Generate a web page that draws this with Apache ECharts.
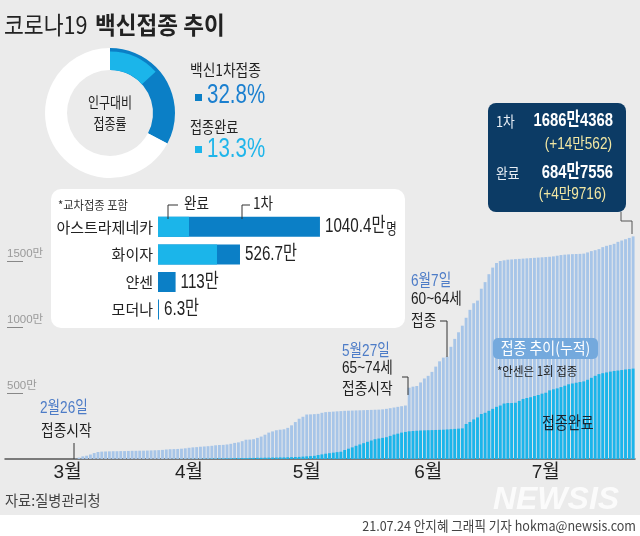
<!DOCTYPE html>
<html><head><meta charset="utf-8">
<script src="https://cdn.jsdelivr.net/npm/echarts@6/dist/echarts.min.js"></script>
<style>html,body{margin:0;padding:0;background:#fff}#c{width:640px;height:536px}</style>
</head><body><div id="c"></div>
<script>
// ---------- DATA ----------
const axisStart = [2021, 1, 8];          // axis begins a little before the first bar
const firstBarDate = '2/26';
const lastBarDate = '7/23';
// cumulative 1st dose (만 명), daily 2/26 .. 7/23
const firstDose = [
  2, 10, 20,
  25, 34, 45, 53, 56, 57, 58, 59, 59, 60, 60, 61, 62, 62, 63, 63, 64, 65, 66, 67, 69, 72, 74, 75, 76, 78, 81, 85, 88, 90, 93,
  95, 97, 100, 104, 106, 107, 110, 115, 122, 126, 135, 146, 147, 150, 160, 170, 184, 200, 209, 218, 222, 225, 236, 255, 280, 305, 320, 337, 338, 340,
  342, 350, 355, 357, 359, 361, 363, 365, 366, 367, 368, 369, 370, 371, 372, 373, 374, 376, 380, 385, 390, 395, 400, 405, 540, 548, 553, 580, 610, 630, 660,
  700, 740, 768, 775, 850, 910, 960, 1010, 1070, 1130, 1180, 1200, 1290, 1340, 1400, 1450, 1485, 1500, 1505, 1510, 1512, 1514, 1516, 1518, 1520, 1522, 1524, 1526, 1528, 1530,
  1532, 1535, 1540, 1545, 1548, 1550, 1552, 1553, 1554, 1556, 1565, 1575, 1582, 1590, 1605, 1615, 1622, 1630, 1645, 1655, 1665, 1675, 1686.4
];
// cumulative fully vaccinated (만 명)
const fullyVax = [
  0, 0, 0,
  0, 0, 0, 0, 0, 0, 0, 0, 0, 0, 0, 0, 0, 0, 0, 0, 0, 0, 0, 0.1, 0.2, 0.3, 0.4, 0.5, 0.6, 0.7, 0.8, 0.9, 1, 1.1, 1.2,
  2, 2, 3, 3, 4, 4, 5, 5, 6, 6, 7, 7, 8, 8, 9, 9, 10, 10, 11, 11, 12, 12, 13, 14, 15, 16, 18, 20, 22, 24,
  30, 35, 40, 44, 48, 52, 55, 68, 78, 88, 100, 110, 120, 130, 140, 150, 155, 160, 165, 175, 185, 192, 200, 205, 210, 212, 214, 216, 217, 218, 219,
  220, 221, 222, 224, 226, 228, 230, 232, 265, 280, 300, 315, 341, 350, 365, 380, 395, 405, 420, 424, 424, 426, 440, 455, 462, 468, 477, 485, 495, 502,
  520, 528, 535, 545, 555, 566, 572, 578, 583, 588, 600, 615, 630, 643, 650, 656, 662, 667, 670, 674, 678, 681, 684.8
];
const monthLabelAt = ['2/24', '3/28', '4/28', '5/30', '6/30'];
const monthLabels = ['3월', '4월', '5월', '6월', '7월'];
const yTickValues = [500, 1000, 1500];

const vaccines = ['아스트라제네카', '화이자', '얀센', '모더나'];
const vaccineFirst = [1040.4, 526.7, 113, 6.3];
const vaccineDone = [199, 379, null, null];
const vaccineLabels = ['1040.4만', '526.7만', '113만', '6.3만'];
const vaccineUnit = ['명', '', '', ''];

const donutFirstPct = 32.8;
const donutDonePct = 13.3;

// ---------- BUILD ----------
const F_NUM = "'Liberation Sans','Noto Sans CJK KR',sans-serif";
const F_KR = "'Noto Sans CJK KR','Noto Sans',sans-serif";

const categories = [];
{
  const d = new Date(Date.UTC(axisStart[0], axisStart[1], axisStart[2]));
  while (true) {
    const lab = (d.getUTCMonth() + 1) + '/' + d.getUTCDate();
    categories.push(lab);
    if (lab === lastBarDate) break;
    d.setUTCDate(d.getUTCDate() + 1);
  }
}
const pad = categories.indexOf(firstBarDate);
const padArr = new Array(pad).fill(null);

const C_FIRST = '#a7c5e8', C_DONE = '#1bb5ea', C_DARK = '#0b7fc6';

function txt(x, y, text, size, color, opts, sx) {
  return { type: 'text', x: x, y: y, z: 50, silent: true, scaleX: sx || 1,
    style: Object.assign({ text: text, fontSize: size, fill: color, fontFamily: F_KR,
      verticalAlign: 'middle', align: 'left' }, (opts || {})) };
}
function pl(points, color) {
  return { type: 'polyline', z: 50, silent: true, shape: { points: points },
    style: { stroke: color || '#333', lineWidth: 1, fill: null } };
}

const chart = echarts.init(document.getElementById('c'), null, { renderer: 'canvas' });
const option = {
  animation: false,
  backgroundColor: '#ebebeb',
  grid: [
    { left: 5, right: 5, top: 195, bottom: 77 },
    { left: 158, top: 213, width: 233.5, height: 110.4 }
  ],
  xAxis: [
    { type: 'category', gridIndex: 0, data: categories,
      axisLine: { lineStyle: { color: '#555', width: 1.5 } },
      axisTick: { show: false },
      axisLabel: { interval: (i, v) => monthLabelAt.indexOf(v) >= 0,
        formatter: v => monthLabels[monthLabelAt.indexOf(v)] || '',
        color: '#222', fontSize: 19, fontFamily: F_NUM, margin: 4 } },
    { type: 'value', gridIndex: 1, min: 0, max: 1500, show: false }
  ],
  yAxis: [
    { type: 'value', gridIndex: 0, min: 0, max: 2000, interval: 500, offset: -18,
      axisLine: { show: false }, splitLine: { show: false },
      axisTick: { show: true, customValues: yTickValues, length: 16, lineStyle: { color: '#888' } },
      axisLabel: { customValues: yTickValues, formatter: v => (yTickValues.indexOf(v) >= 0 ? v + '만' : ''),
        align: 'left', verticalAlign: 'bottom', margin: 16, color: '#999', fontSize: 11.5,
        fontFamily: F_NUM, padding: [0, 0, 1, 0] } },
    { type: 'category', gridIndex: 1, data: vaccines, inverse: true,
      axisLine: { show: false }, axisTick: { show: false },
      axisLabel: { color: '#222', fontSize: 15, fontFamily: F_KR, margin: 5 } }
  ],
  series: [
    { type: 'bar', name: '1차', xAxisIndex: 0, yAxisIndex: 0, data: padArr.concat(firstDose),
      itemStyle: { color: C_FIRST }, barCategoryGap: '24%', silent: true },
    { type: 'bar', name: '완료', xAxisIndex: 0, yAxisIndex: 0, data: padArr.concat(fullyVax),
      itemStyle: { color: C_DONE }, barGap: '-100%', silent: true },
    { type: 'bar', xAxisIndex: 1, yAxisIndex: 1, data: vaccineFirst, barWidth: 20,
      itemStyle: { color: C_DARK }, silent: true },
    { type: 'bar', xAxisIndex: 1, yAxisIndex: 1, data: vaccineDone, barWidth: 20, barGap: '-100%',
      itemStyle: { color: C_DONE }, silent: true },
    { type: 'custom', xAxisIndex: 1, yAxisIndex: 1, silent: true, z: 10,
      data: vaccineFirst.map((v, i) => [v, i]),
      renderItem: function (params, api) {
        const p = api.coord([api.value(0), api.value(1)]);
        const i = params.dataIndex;
        return { type: 'text', x: p[0] + 5, y: p[1], scaleX: 0.76,
          style: { text: '{v|' + vaccineLabels[i] + '}' + (vaccineUnit[i] ? '{u|' + vaccineUnit[i] + '}' : ''),
            verticalAlign: 'middle', align: 'left',
            rich: { v: { fontSize: 20, fontFamily: F_NUM, fill: '#222', color: '#222' },
                    u: { fontSize: 15, fontFamily: F_KR, fill: '#222', color: '#222', padding: [3, 0, 0, 1] } } } };
      } },
    { type: 'pie', center: [110, 113], radius: [43, 65], startAngle: 90, silent: true,
      label: { show: false }, labelLine: { show: false }, itemStyle: { borderWidth: 0 },
      data: [ { value: donutFirstPct, itemStyle: { color: C_DARK } },
              { value: 100 - donutFirstPct, itemStyle: { color: '#ffffff' } } ] },
    { type: 'pie', center: [110, 113], radius: [43, 61.5], startAngle: 90, silent: true,
      label: { show: false }, labelLine: { show: false }, itemStyle: { borderWidth: 0 },
      data: [ { value: donutDonePct, itemStyle: { color: C_DONE } },
              { value: 100 - donutDonePct, itemStyle: { color: 'rgba(0,0,0,0)' } } ] }
  ],
  graphic: [
    // white footer band
    { type: 'rect', z: -1, silent: true, shape: { x: 0, y: 515, width: 640, height: 21 }, style: { fill: '#ffffff' } },
    // white vaccine box
    { type: 'rect', z: -1, silent: true, shape: { x: 51, y: 189, width: 354, height: 139, r: 10 }, style: { fill: '#ffffff' } },
    // title
    txt(4, 25, '코로나19', 24, '#222', {}, 0.9),
    txt(95, 25, '백신접종 추이', 24, '#222', { fontWeight: 'bold' }, 0.94),
    // donut center text
    txt(110, 102, '인구대비', 15, '#222', { align: 'center' }, 0.8),
    txt(110, 123, '접종률', 15, '#222', { align: 'center' }, 0.8),
    // donut legend
    txt(190, 70, '백신1차접종', 16, '#222', {}, 0.86),
    { type: 'rect', z: 50, silent: true, shape: { x: 195, y: 94, width: 7, height: 7 }, style: { fill: C_DARK } },
    txt(207, 96, '32.8%', 27, '#1a7fcf', { fontFamily: F_NUM }, 0.76),
    txt(190, 127, '접종완료', 16, '#222', {}, 0.82),
    { type: 'rect', z: 50, silent: true, shape: { x: 195, y: 146, width: 7, height: 7 }, style: { fill: C_DONE } },
    txt(207, 150, '13.3%', 27, '#1fb5ea', { fontFamily: F_NUM }, 0.76),
    // vaccine box texts
    txt(58, 205, '*교차접종 포함', 12.5, '#333', {}, 0.9),
    txt(184, 203, '완료', 16, '#222', {}, 0.85),
    txt(253, 203, '1차', 16, '#222', {}, 0.85),
    pl([[178, 205], [168, 205], [168, 219]], '#333'),
    pl([[250, 205], [242, 205], [242, 219]], '#333'),
    // summary box
    { type: 'rect', z: 40, silent: true, shape: { x: 488, y: 103, width: 138, height: 109, r: 8 }, style: { fill: '#0c3b65' } },
    txt(496, 121, '1차', 15, '#e8eef5', {}, 0.85),
    txt(613, 121, '1686만4368', 19, '#ffffff', { align: 'right', fontFamily: F_NUM, fontWeight: 'bold' }, 0.78),
    txt(612, 145, '(+14만562)', 16, '#f2e7a3', { align: 'right', fontFamily: F_NUM }, 0.85),
    txt(496, 173, '완료', 15, '#e8eef5', {}, 0.85),
    txt(613, 173, '684만7556', 19, '#ffffff', { align: 'right', fontFamily: F_NUM, fontWeight: 'bold' }, 0.78),
    txt(606, 195, '(+4만9716)', 16, '#f2e7a3', { align: 'right', fontFamily: F_NUM }, 0.85),
    pl([[621, 212], [621, 221], [632, 221], [632, 234]], '#555'),
    // annotations
    txt(40, 408, '2월26일', 17, '#4d7cc7', { fontFamily: F_NUM }, 0.8),
    txt(41, 430, '접종시작', 16, '#222', {}, 0.86),
    pl([[74, 443], [74, 459]], '#333'),
    txt(342, 351, '5월27일', 17, '#4d7cc7', { fontFamily: F_NUM }, 0.8),
    txt(342, 369, '65~74세', 16, '#222', { fontFamily: F_NUM }, 0.85),
    txt(342, 388, '접종시작', 16, '#222', {}, 0.86),
    pl([[402, 377], [408, 377], [408, 395]], '#333'),
    txt(411, 281, '6월7일', 17, '#4d7cc7', { fontFamily: F_NUM }, 0.8),
    txt(411, 300, '60~64세', 16, '#222', { fontFamily: F_NUM }, 0.85),
    txt(411, 320, '접종', 16, '#222', {}, 0.86),
    pl([[440, 321], [447, 321], [447, 357]], '#333'),
    { type: 'rect', z: 45, silent: true, shape: { x: 493, y: 338, width: 105, height: 21, r: 5 }, style: { fill: '#74a9dd' } },
    txt(545.5, 348.5, '접종 추이(누적)', 15.5, '#ffffff', { align: 'center' }, 0.9),
    txt(497, 371, '*안센은 1회 접종', 12.5, '#222', {}, 0.92),
    txt(542, 423, '접종완료', 16.5, '#17232f', {}, 0.85),
    // footer
    txt(5, 500, '자료:질병관리청', 15, '#444', {}, 0.95),
    txt(556, 500, 'NEWSIS', 32, 'rgba(255,255,255,0.8)', { align: 'center', fontFamily: "'Liberation Sans','Roboto',sans-serif", fontWeight: 900, fontStyle: 'italic' }),
    txt(636, 526, '21.07.24 안지혜 그래픽 기자 hokma@newsis.com', 13.5, '#444', { align: 'right' }, 0.93)
  ]
};
chart.setOption(option);
</script>
</body></html>
